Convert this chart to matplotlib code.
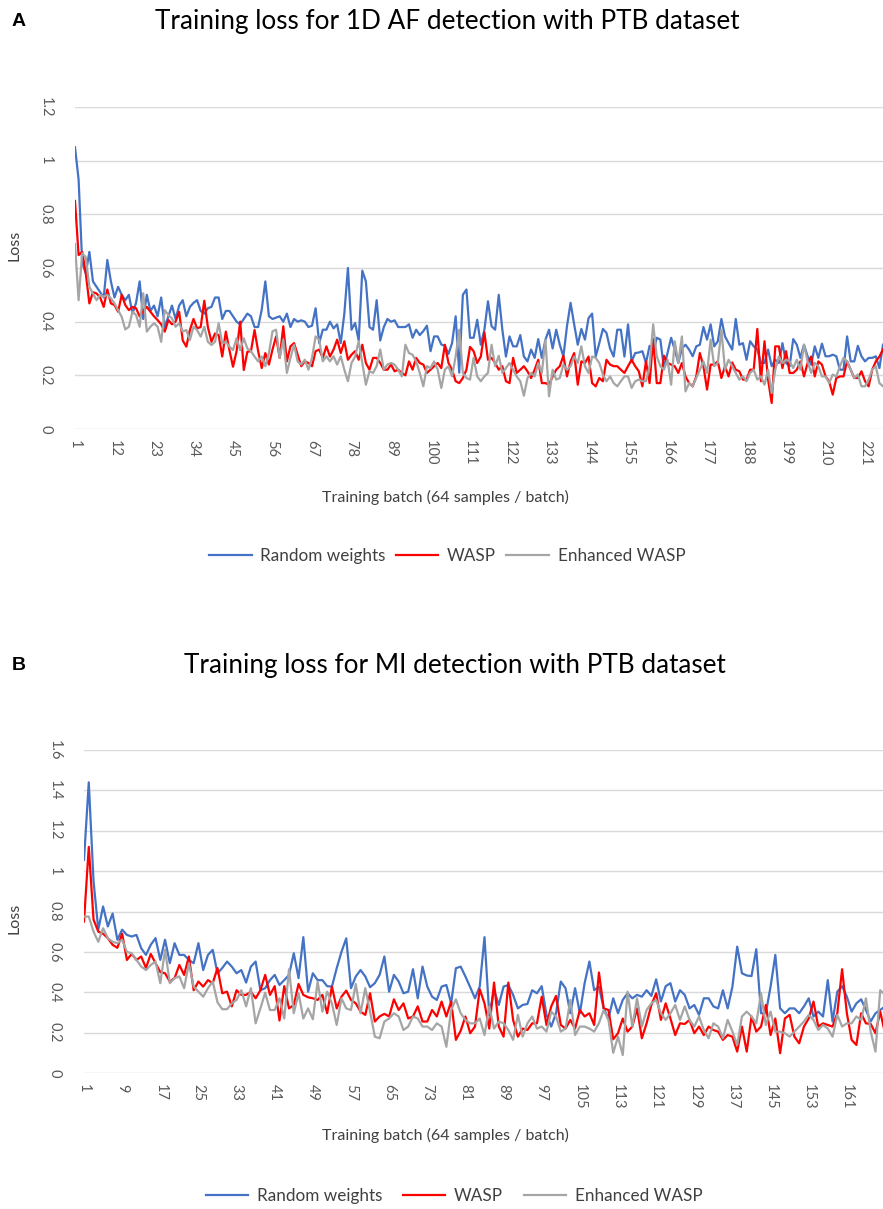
import numpy as np
import matplotlib
matplotlib.use("Agg")
import matplotlib.pyplot as plt

plt.rcParams['font.family'] = ['Lato', 'DejaVu Sans']

# ---- panel A: 1D AF detection ----
af_random = [1.05, 0.93, 0.62, 0.58, 0.66, 0.55, 0.53, 0.51, 0.49, 0.63,
             0.55, 0.49, 0.53, 0.50, 0.48, 0.50, 0.43, 0.47, 0.55, 0.41,
             0.50, 0.44, 0.46, 0.42, 0.49, 0.38, 0.42, 0.46, 0.41, 0.46,
             0.48, 0.42, 0.455, 0.47, 0.48, 0.44, 0.43, 0.45, 0.455, 0.49,
             0.49, 0.41, 0.44, 0.44, 0.42, 0.40, 0.39, 0.41, 0.43, 0.42,
             0.38, 0.38, 0.445, 0.55, 0.42, 0.41, 0.415, 0.42, 0.40, 0.43,
             0.38, 0.41, 0.40, 0.405, 0.40, 0.38, 0.385, 0.45, 0.32, 0.37,
             0.37, 0.40, 0.375, 0.39, 0.32, 0.43, 0.60, 0.37, 0.395, 0.33,
             0.59, 0.55, 0.38, 0.37, 0.48, 0.33, 0.38, 0.41, 0.40, 0.405,
             0.38, 0.38, 0.38, 0.39, 0.34, 0.37, 0.35, 0.365, 0.385, 0.29,
             0.345, 0.345, 0.315, 0.31, 0.28, 0.32, 0.42, 0.21, 0.50, 0.52,
             0.34, 0.34, 0.407, 0.314, 0.37, 0.476, 0.383, 0.37, 0.50, 0.37,
             0.27, 0.345, 0.308, 0.308, 0.35, 0.27, 0.252, 0.296, 0.265, 0.335,
             0.265, 0.333, 0.37, 0.30, 0.37, 0.314, 0.27, 0.383, 0.47, 0.39,
             0.314, 0.373, 0.333, 0.413, 0.43, 0.27, 0.32, 0.373, 0.358, 0.30,
             0.27, 0.37, 0.37, 0.27, 0.39, 0.252, 0.283, 0.285, 0.29, 0.246,
             0.31, 0.283, 0.34, 0.333, 0.227, 0.283, 0.34, 0.296, 0.246, 0.30,
             0.314, 0.296, 0.271, 0.308, 0.314, 0.38, 0.333, 0.39, 0.308, 0.327,
             0.41, 0.345, 0.32, 0.296, 0.41, 0.314, 0.32, 0.258, 0.327, 0.308,
             0.296, 0.246, 0.246, 0.296, 0.234, 0.258, 0.246, 0.32, 0.246, 0.234,
             0.335, 0.314, 0.265, 0.314, 0.271, 0.24, 0.308, 0.265, 0.318, 0.271,
             0.271, 0.277, 0.271, 0.221, 0.221, 0.345, 0.252, 0.252, 0.31, 0.271,
             0.252, 0.265, 0.265, 0.271, 0.227, 0.314]
af_wasp = [0.85, 0.648, 0.66, 0.58, 0.468, 0.51, 0.505, 0.49, 0.455, 0.52,
           0.468, 0.462, 0.437, 0.50, 0.462, 0.443, 0.455, 0.45, 0.42, 0.44,
           0.455, 0.437, 0.42, 0.406, 0.39, 0.363, 0.406, 0.39, 0.40, 0.437,
           0.33, 0.307, 0.369, 0.41, 0.375, 0.38, 0.478, 0.38, 0.325, 0.356,
           0.35, 0.27, 0.363, 0.294, 0.232, 0.29, 0.40, 0.22, 0.288, 0.29,
           0.369, 0.29, 0.227, 0.283, 0.24, 0.296, 0.345, 0.265, 0.383, 0.252,
           0.308, 0.32, 0.277, 0.234, 0.252, 0.246, 0.234, 0.29, 0.296, 0.265,
           0.308, 0.27, 0.296, 0.333, 0.283, 0.327, 0.258, 0.277, 0.29, 0.258,
           0.314, 0.246, 0.221, 0.265, 0.265, 0.246, 0.221, 0.221, 0.24, 0.215,
           0.221, 0.209, 0.20, 0.252, 0.221, 0.265, 0.246, 0.24, 0.209, 0.221,
           0.234, 0.246, 0.227, 0.314, 0.246, 0.221, 0.178, 0.171, 0.19, 0.221,
           0.306, 0.29, 0.246, 0.27, 0.36, 0.258, 0.265, 0.246, 0.221, 0.234,
           0.178, 0.171, 0.265, 0.209, 0.221, 0.234, 0.215, 0.19, 0.221, 0.258,
           0.171, 0.171, 0.165, 0.196, 0.221, 0.234, 0.273, 0.196, 0.252, 0.283,
           0.165, 0.252, 0.246, 0.27, 0.171, 0.159, 0.19, 0.178, 0.258, 0.24,
           0.234, 0.234, 0.221, 0.209, 0.234, 0.258, 0.234, 0.215, 0.159, 0.252,
           0.171, 0.335, 0.171, 0.171, 0.273, 0.246, 0.24, 0.234, 0.209, 0.246,
           0.196, 0.171, 0.159, 0.196, 0.283, 0.234, 0.147, 0.24, 0.24, 0.252,
           0.19, 0.234, 0.196, 0.248, 0.221, 0.215, 0.184, 0.184, 0.221, 0.221,
           0.373, 0.178, 0.327, 0.184, 0.097, 0.308, 0.308, 0.227, 0.29, 0.209,
           0.209, 0.221, 0.252, 0.196, 0.246, 0.27, 0.196, 0.252, 0.24, 0.196,
           0.178, 0.128, 0.19, 0.196, 0.196, 0.252, 0.221, 0.19, 0.19, 0.215,
           0.178, 0.159, 0.221, 0.252, 0.27, 0.296]
af_enhanced = [0.69, 0.48, 0.655, 0.64, 0.53, 0.505, 0.48, 0.50, 0.493, 0.50,
               0.487, 0.468, 0.443, 0.418, 0.371, 0.381, 0.437, 0.425, 0.381, 0.506,
               0.363, 0.381, 0.394, 0.381, 0.325, 0.443, 0.425, 0.412, 0.381, 0.394,
               0.363, 0.369, 0.332, 0.381, 0.369, 0.344, 0.381, 0.325, 0.313, 0.325,
               0.394, 0.319, 0.325, 0.307, 0.294, 0.338, 0.294, 0.338, 0.30, 0.29,
               0.27, 0.252, 0.27, 0.234, 0.283, 0.364, 0.37, 0.265, 0.333, 0.209,
               0.265, 0.314, 0.252, 0.24, 0.258, 0.221, 0.265, 0.345, 0.333, 0.252,
               0.271, 0.252, 0.271, 0.24, 0.271, 0.221, 0.178, 0.246, 0.27, 0.327,
               0.246, 0.165, 0.215, 0.209, 0.234, 0.296, 0.221, 0.24, 0.246, 0.24,
               0.221, 0.196, 0.314, 0.283, 0.277, 0.252, 0.209, 0.159, 0.234, 0.227,
               0.252, 0.221, 0.153, 0.221, 0.234, 0.196, 0.27, 0.37, 0.209, 0.19,
               0.184, 0.265, 0.196, 0.178, 0.196, 0.209, 0.314, 0.234, 0.273, 0.209,
               0.227, 0.246, 0.221, 0.196, 0.178, 0.124, 0.19, 0.209, 0.196, 0.246,
               0.209, 0.333, 0.122, 0.221, 0.184, 0.19, 0.24, 0.221, 0.234, 0.27,
               0.246, 0.308, 0.234, 0.209, 0.27, 0.265, 0.246, 0.203, 0.178, 0.196,
               0.171, 0.159, 0.178, 0.196, 0.196, 0.153, 0.178, 0.184, 0.178, 0.178,
               0.234, 0.39, 0.271, 0.234, 0.221, 0.258, 0.165, 0.327, 0.246, 0.345,
               0.14, 0.171, 0.159, 0.19, 0.221, 0.252, 0.209, 0.333, 0.234, 0.246,
               0.37, 0.221, 0.258, 0.234, 0.209, 0.184, 0.196, 0.178, 0.209, 0.221,
               0.184, 0.196, 0.165, 0.221, 0.134, 0.221, 0.27, 0.246, 0.258, 0.252,
               0.227, 0.258, 0.221, 0.314, 0.252, 0.209, 0.246, 0.234, 0.196, 0.196,
               0.171, 0.203, 0.196, 0.234, 0.265, 0.252, 0.221, 0.19, 0.203, 0.159,
               0.159, 0.184, 0.221, 0.234, 0.171, 0.159]

# ---- panel B: MI detection ----
mi_random = [1.056, 1.44, 0.95, 0.71, 0.825, 0.726, 0.79, 0.66, 0.71, 0.684,
             0.676, 0.684, 0.618, 0.585, 0.635, 0.668, 0.56, 0.66, 0.544, 0.643,
             0.585, 0.585, 0.56, 0.544, 0.643, 0.51, 0.585, 0.61, 0.494, 0.52,
             0.552, 0.527, 0.494, 0.51, 0.448, 0.527, 0.552, 0.41, 0.42, 0.46,
             0.486, 0.436, 0.46, 0.486, 0.593, 0.47, 0.673, 0.403, 0.494, 0.46,
             0.46, 0.43, 0.428, 0.519, 0.60, 0.667, 0.42, 0.478, 0.51, 0.478,
             0.425, 0.445, 0.486, 0.577, 0.403, 0.486, 0.453, 0.395, 0.403, 0.514,
             0.37, 0.527, 0.428, 0.378, 0.362, 0.428, 0.436, 0.345, 0.519, 0.527,
             0.478, 0.425, 0.37, 0.428, 0.673, 0.288, 0.41, 0.337, 0.428, 0.436,
             0.387, 0.32, 0.337, 0.342, 0.41, 0.395, 0.43, 0.288, 0.23, 0.296,
             0.453, 0.42, 0.296, 0.42, 0.296, 0.445, 0.552, 0.41, 0.428, 0.32,
             0.27, 0.37, 0.296, 0.362, 0.395, 0.37, 0.387, 0.378, 0.41, 0.382,
             0.464, 0.354, 0.43, 0.445, 0.354, 0.41, 0.387, 0.32, 0.337, 0.288,
             0.37, 0.37, 0.33, 0.32, 0.41, 0.32, 0.428, 0.626, 0.494, 0.483,
             0.48, 0.613, 0.296, 0.296, 0.428, 0.585, 0.32, 0.296, 0.32, 0.32,
             0.296, 0.33, 0.37, 0.28, 0.304, 0.28, 0.46, 0.255, 0.403, 0.43,
             0.378, 0.304, 0.345, 0.365, 0.312, 0.255, 0.296, 0.312, 0.33]
mi_wasp = [0.75, 1.12, 0.76, 0.70, 0.69, 0.668, 0.635, 0.62, 0.69, 0.56,
           0.59, 0.56, 0.577, 0.52, 0.59, 0.544, 0.50, 0.494, 0.453, 0.47,
           0.535, 0.486, 0.577, 0.41, 0.453, 0.428, 0.46, 0.445, 0.52, 0.395,
           0.403, 0.33, 0.41, 0.387, 0.387, 0.403, 0.37, 0.41, 0.486, 0.387,
           0.43, 0.26, 0.43, 0.32, 0.337, 0.441, 0.387, 0.375, 0.37, 0.362,
           0.387, 0.296, 0.428, 0.32, 0.378, 0.408, 0.362, 0.345, 0.304, 0.288,
           0.395, 0.255, 0.28, 0.293, 0.28, 0.365, 0.312, 0.345, 0.27, 0.28,
           0.33, 0.255, 0.255, 0.312, 0.28, 0.354, 0.28, 0.354, 0.164, 0.209,
           0.28, 0.197, 0.23, 0.415, 0.345, 0.22, 0.448, 0.23, 0.18, 0.448,
           0.263, 0.18, 0.22, 0.213, 0.246, 0.246, 0.378, 0.238, 0.33, 0.382,
           0.238, 0.22, 0.263, 0.22, 0.312, 0.28, 0.296, 0.238, 0.498, 0.32,
           0.312, 0.167, 0.197, 0.27, 0.205, 0.23, 0.32, 0.172, 0.246, 0.337,
           0.395, 0.263, 0.345, 0.27, 0.188, 0.246, 0.243, 0.263, 0.197, 0.23,
           0.188, 0.23, 0.213, 0.205, 0.164, 0.188, 0.18, 0.106, 0.23, 0.106,
           0.28, 0.205, 0.23, 0.337, 0.188, 0.27, 0.098, 0.27, 0.288, 0.18,
           0.147, 0.23, 0.27, 0.354, 0.23, 0.246, 0.238, 0.23, 0.296, 0.514,
           0.296, 0.164, 0.139, 0.296, 0.246, 0.243, 0.197, 0.304, 0.197]
mi_enhanced = [0.775, 0.775, 0.70, 0.65, 0.717, 0.668, 0.65, 0.643, 0.66, 0.60,
               0.593, 0.56, 0.527, 0.51, 0.535, 0.552, 0.445, 0.61, 0.445, 0.47,
               0.478, 0.42, 0.544, 0.428, 0.403, 0.378, 0.42, 0.453, 0.35, 0.316,
               0.316, 0.345, 0.362, 0.41, 0.33, 0.42, 0.246, 0.32, 0.398, 0.312,
               0.312, 0.37, 0.27, 0.514, 0.296, 0.395, 0.27, 0.32, 0.266, 0.453,
               0.304, 0.403, 0.345, 0.238, 0.37, 0.32, 0.312, 0.441, 0.296, 0.42,
               0.304, 0.18, 0.172, 0.255, 0.27, 0.296, 0.28, 0.213, 0.23, 0.28,
               0.27, 0.23, 0.23, 0.213, 0.246, 0.23, 0.13, 0.312, 0.365, 0.296,
               0.263, 0.246, 0.246, 0.27, 0.188, 0.33, 0.22, 0.255, 0.246, 0.213,
               0.164, 0.288, 0.18, 0.246, 0.28, 0.22, 0.23, 0.205, 0.304, 0.28,
               0.205, 0.22, 0.362, 0.188, 0.23, 0.23, 0.22, 0.205, 0.246, 0.312,
               0.263, 0.10, 0.18, 0.089, 0.403, 0.23, 0.37, 0.23, 0.312, 0.345,
               0.362, 0.296, 0.263, 0.296, 0.337, 0.263, 0.33, 0.263, 0.23, 0.28,
               0.213, 0.172, 0.246, 0.23, 0.172, 0.263, 0.205, 0.139, 0.28, 0.304,
               0.28, 0.246, 0.395, 0.238, 0.304, 0.205, 0.205, 0.197, 0.18, 0.205,
               0.23, 0.255, 0.288, 0.263, 0.213, 0.238, 0.22, 0.18, 0.288, 0.23,
               0.246, 0.246, 0.28, 0.263, 0.37, 0.205, 0.106, 0.41, 0.387]

series_names = ["Random weights", "WASP", "Enhanced WASP"]
colors = ["#4472C4", "#FF0000", "#A5A5A5"]

W, H = 883, 1209
fig = plt.figure(figsize=(W / 100, H / 100), dpi=100)


def px_axes(left, top, right, bottom):
    return fig.add_axes([left / W, 1 - bottom / H, (right - left) / W, (bottom - top) / H])


def draw_panel(ax, data, step, ymax, ystep, title, letter, title_x, title_y,
               xlab_y, leg_x, leg_y, colsp):
    n = len(data[0])
    x = np.arange(1, n + 1)
    for vals, c, name in zip(data, colors, series_names):
        ax.plot(x, vals, color=c, lw=1.6, label=name, solid_joinstyle='round')
    ax.set_xlim(1, n)
    ax.set_ylim(0, ymax)
    ax.set_xticks(np.arange(1, n + 1, step))
    ax.set_xticklabels([str(v) for v in range(1, n + 1, step)], rotation=-90,
                       fontsize=10.5, color="#595959")
    yt = np.round(np.arange(0, ymax + 1e-9, ystep), 1)
    ax.set_yticks(yt)
    ax.set_yticklabels(["0" if v == 0 else ("1" if v == 1 else f"{v:g}") for v in yt],
                       rotation=-90, fontsize=10.5, color="#595959", va="center")
    ax.tick_params(axis="x", length=0, pad=8)
    ax.tick_params(axis="y", length=0, pad=16)
    ax.grid(axis="y", color="#D9D9D9", lw=1)
    ax.set_axisbelow(True)
    for s in ax.spines.values():
        s.set_visible(False)
    fig.text(title_x / W, 1 - title_y / H, title, ha="center", va="center", fontsize=18.8)
    fig.text(12 / W, 1 - title_y / H, letter, ha="left", va="center", fontsize=14,
             fontweight="bold", family="Liberation Sans")
    fig.text(445 / W, 1 - xlab_y / H, "Training batch (64 samples / batch)",
             ha="center", va="center", fontsize=11.5, color="#404040")
    fig.legend(handles=ax.get_lines(), labels=series_names, loc="center",
               bbox_to_anchor=(leg_x / W, 1 - leg_y / H), ncol=3, frameon=False,
               fontsize=12.3, handlelength=2.5, handletextpad=0.5,
               columnspacing=colsp, labelcolor="#404040")


axA = px_axes(75, 107, 883, 429)
draw_panel(axA, [af_random, af_wasp, af_enhanced], 11, 1.2, 0.2,
           "Training loss for 1D AF detection with PTB dataset", "A", 447, 22,
           497, 447, 556, 0.6)
fig.text(15 / W, 1 - 245 / H, "Loss", rotation=90, ha="center", va="center",
         fontsize=11.5, color="#404040")

axB = px_axes(84, 750, 885, 1073)
draw_panel(axB, [mi_random, mi_wasp, mi_enhanced], 8, 1.6, 0.2,
           "Training loss for MI detection with PTB dataset", "B", 455, 665,
           1135, 454, 1196, 1.2)
fig.text(15 / W, 1 - 918 / H, "Loss", rotation=90, ha="center", va="center",
         fontsize=11.5, color="#404040")

fig.savefig("out.png", dpi=100)
